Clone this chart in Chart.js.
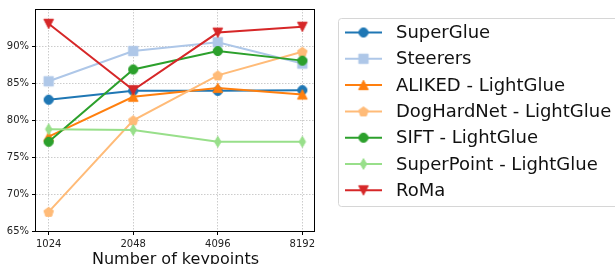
<!DOCTYPE html>
<html><head><meta charset="utf-8">
<script src="https://cdn.jsdelivr.net/npm/chart.js@4/dist/chart.umd.min.js"></script>
<style>html,body{margin:0;padding:0;background:#fff;}#wrap{width:615px;height:264px;}</style>
</head><body><div id="wrap"><canvas id="c" width="615" height="264"></canvas></div>
<script>
// ---- data ----
const categories = ['1024', '2048', '4096', '8192'];
const seriesNames = ['SuperGlue', 'Steerers', 'ALIKED - LightGlue', 'DogHardNet - LightGlue', 'SIFT - LightGlue', 'SuperPoint - LightGlue', 'RoMa'];
const superGlue = [82.8, 84.0, 84.0, 84.1];
const steerers = [85.3, 89.4, 90.6, 87.7];
const alikedLG = [77.8, 83.2, 84.4, 83.5];
const dogHardNetLG = [67.6, 80.0, 86.1, 89.3];
const siftLG = [77.1, 86.9, 89.4, 88.1];
const superPointLG = [78.8, 78.7, 77.1, 77.1];
const roma = [93.1, 84.1, 91.9, 92.7];
const yTicks = [65, 70, 75, 80, 85, 90];

// ---- styles ----
const seriesValues = [superGlue, steerers, alikedLG, dogHardNetLG, siftLG, superPointLG, roma];
const colors = ['#1f77b4', '#aec7e8', '#ff7f0e', '#ffbb78', '#2ca02c', '#98df8a', '#d62728'];
const markers = ['circle', 'square', 'triUp', 'pentagon', 'circle', 'thinDiamond', 'triDown'];

function makeMarker(kind, color) {
  const S = 14;
  const cv = document.createElement('canvas');
  cv.width = S; cv.height = S;
  const g = cv.getContext('2d');
  g.fillStyle = color; g.strokeStyle = color; g.lineWidth = 1;
  const c = S / 2;
  g.beginPath();
  if (kind === 'circle') {
    g.arc(c, c, 4.6, 0, Math.PI * 2);
  } else if (kind === 'square') {
    g.rect(c - 4.7, c - 4.7, 9.4, 9.4);
  } else if (kind === 'triUp') {
    g.moveTo(c, c - 4.8); g.lineTo(c + 4.8, c + 4.6); g.lineTo(c - 4.8, c + 4.6); g.closePath();
  } else if (kind === 'triDown') {
    g.moveTo(c, c + 4.8); g.lineTo(c + 4.8, c - 4.6); g.lineTo(c - 4.8, c - 4.6); g.closePath();
  } else if (kind === 'pentagon') {
    const r = 5;
    for (let k = 0; k < 5; k++) {
      const a = -Math.PI / 2 + k * 2 * Math.PI / 5;
      const px = c + r * Math.cos(a), py = c + r * Math.sin(a) + 0.4;
      if (k === 0) g.moveTo(px, py); else g.lineTo(px, py);
    }
    g.closePath();
  } else if (kind === 'thinDiamond') {
    g.moveTo(c, c - 5.4); g.lineTo(c + 3.2, c); g.lineTo(c, c + 5.4); g.lineTo(c - 3.2, c); g.closePath();
  }
  g.fill(); g.stroke();
  return cv;
}
const markerImgs = seriesNames.map((n, i) => makeMarker(markers[i], colors[i]));

const datasets = seriesNames.map((name, i) => ({
  label: name,
  data: seriesValues[i].map((v, j) => ({ x: j, y: v })),
  borderColor: colors[i],
  backgroundColor: colors[i],
  borderWidth: 2,
  pointStyle: markerImgs[i],
  pointRadius: 5,
  order: seriesNames.length - i,
  tension: 0
}));

const framePlugin = {
  id: 'frame',
  afterDatasetsDraw(chart) {
    const a = chart.chartArea, ctx = chart.ctx;
    ctx.save();
    ctx.strokeStyle = '#000'; ctx.lineWidth = 1;
    ctx.strokeRect(Math.round(a.left) - 0.5, Math.round(a.top) + 0.5, Math.round(a.right - a.left), Math.round(a.bottom - a.top));
    ctx.restore();
  }
};

const legendPlugin = {
  id: 'customLegend',
  afterDraw(chart) {
    const ctx = chart.ctx;
    ctx.save();
    const bx = 338.5, by = 18.5, bw = 300, bh = 188;
    ctx.beginPath();
    if (ctx.roundRect) ctx.roundRect(bx, by, bw, bh, 3); else ctx.rect(bx, by, bw, bh);
    ctx.fillStyle = 'rgba(255,255,255,0.8)'; ctx.fill();
    ctx.strokeStyle = '#d6d6d6'; ctx.lineWidth = 1; ctx.stroke();
    const y0 = 32.5, dy = 26.3;
    ctx.font = '18px "DejaVu Sans"';
    ctx.textBaseline = 'middle';
    ctx.textAlign = 'left';
    seriesNames.forEach((name, i) => {
      const y = y0 + i * dy;
      ctx.strokeStyle = colors[i]; ctx.lineWidth = 2;
      ctx.beginPath(); ctx.moveTo(345, y); ctx.lineTo(382, y); ctx.stroke();
      const im = markerImgs[i];
      ctx.drawImage(im, 363.5 - im.width / 2, y - im.height / 2);
      ctx.fillStyle = '#111';
      ctx.fillText(name, 396, y + 1);
    });
    ctx.restore();
  }
};

new Chart(document.getElementById('c'), {
  type: 'line',
  data: { datasets },
  options: {
    responsive: false,
    animation: false,
    devicePixelRatio: 1,
    layout: { padding: { left: 0, top: 9, right: 300, bottom: 0 } },
    plugins: { legend: { display: false }, tooltip: { enabled: false } },
    scales: {
      x: {
        type: 'linear',
        min: -0.15, max: 3.15,
        afterBuildTicks: s => { s.ticks = categories.map((c, j) => ({ value: j })); },
        afterFit: s => { s.height = 33; },
        ticks: {
          callback: v => categories[v],
          autoSkip: false, maxRotation: 0,
          font: { family: 'DejaVu Sans', size: 10 }, color: '#222', padding: 3
        },
        grid: { color: '#cccccc', drawTicks: true, tickLength: 4, tickColor: '#000', tickBorderDash: [] },
        border: { display: false, dash: [1.5, 1.5] },
        title: { display: true, text: 'Number of keypoints', font: { family: 'DejaVu Sans', size: 16, lineHeight: 1.2 }, color: '#111', padding: { top: 0, bottom: -5 } }
      },
      y: {
        type: 'linear',
        min: 65, max: 95.1,
        afterBuildTicks: s => { s.ticks = yTicks.map(v => ({ value: v })); },
        afterFit: s => { s.width = 36; },
        ticks: {
          callback: v => v + '%',
          font: { family: 'DejaVu Sans', size: 10 }, color: '#222', padding: 3
        },
        grid: { color: '#cccccc', drawTicks: true, tickLength: 4, tickColor: '#000', tickBorderDash: [] },
        border: { display: false, dash: [1.5, 1.5] }
      }
    }
  },
  plugins: [framePlugin, legendPlugin]
});
</script>
</body></html>
